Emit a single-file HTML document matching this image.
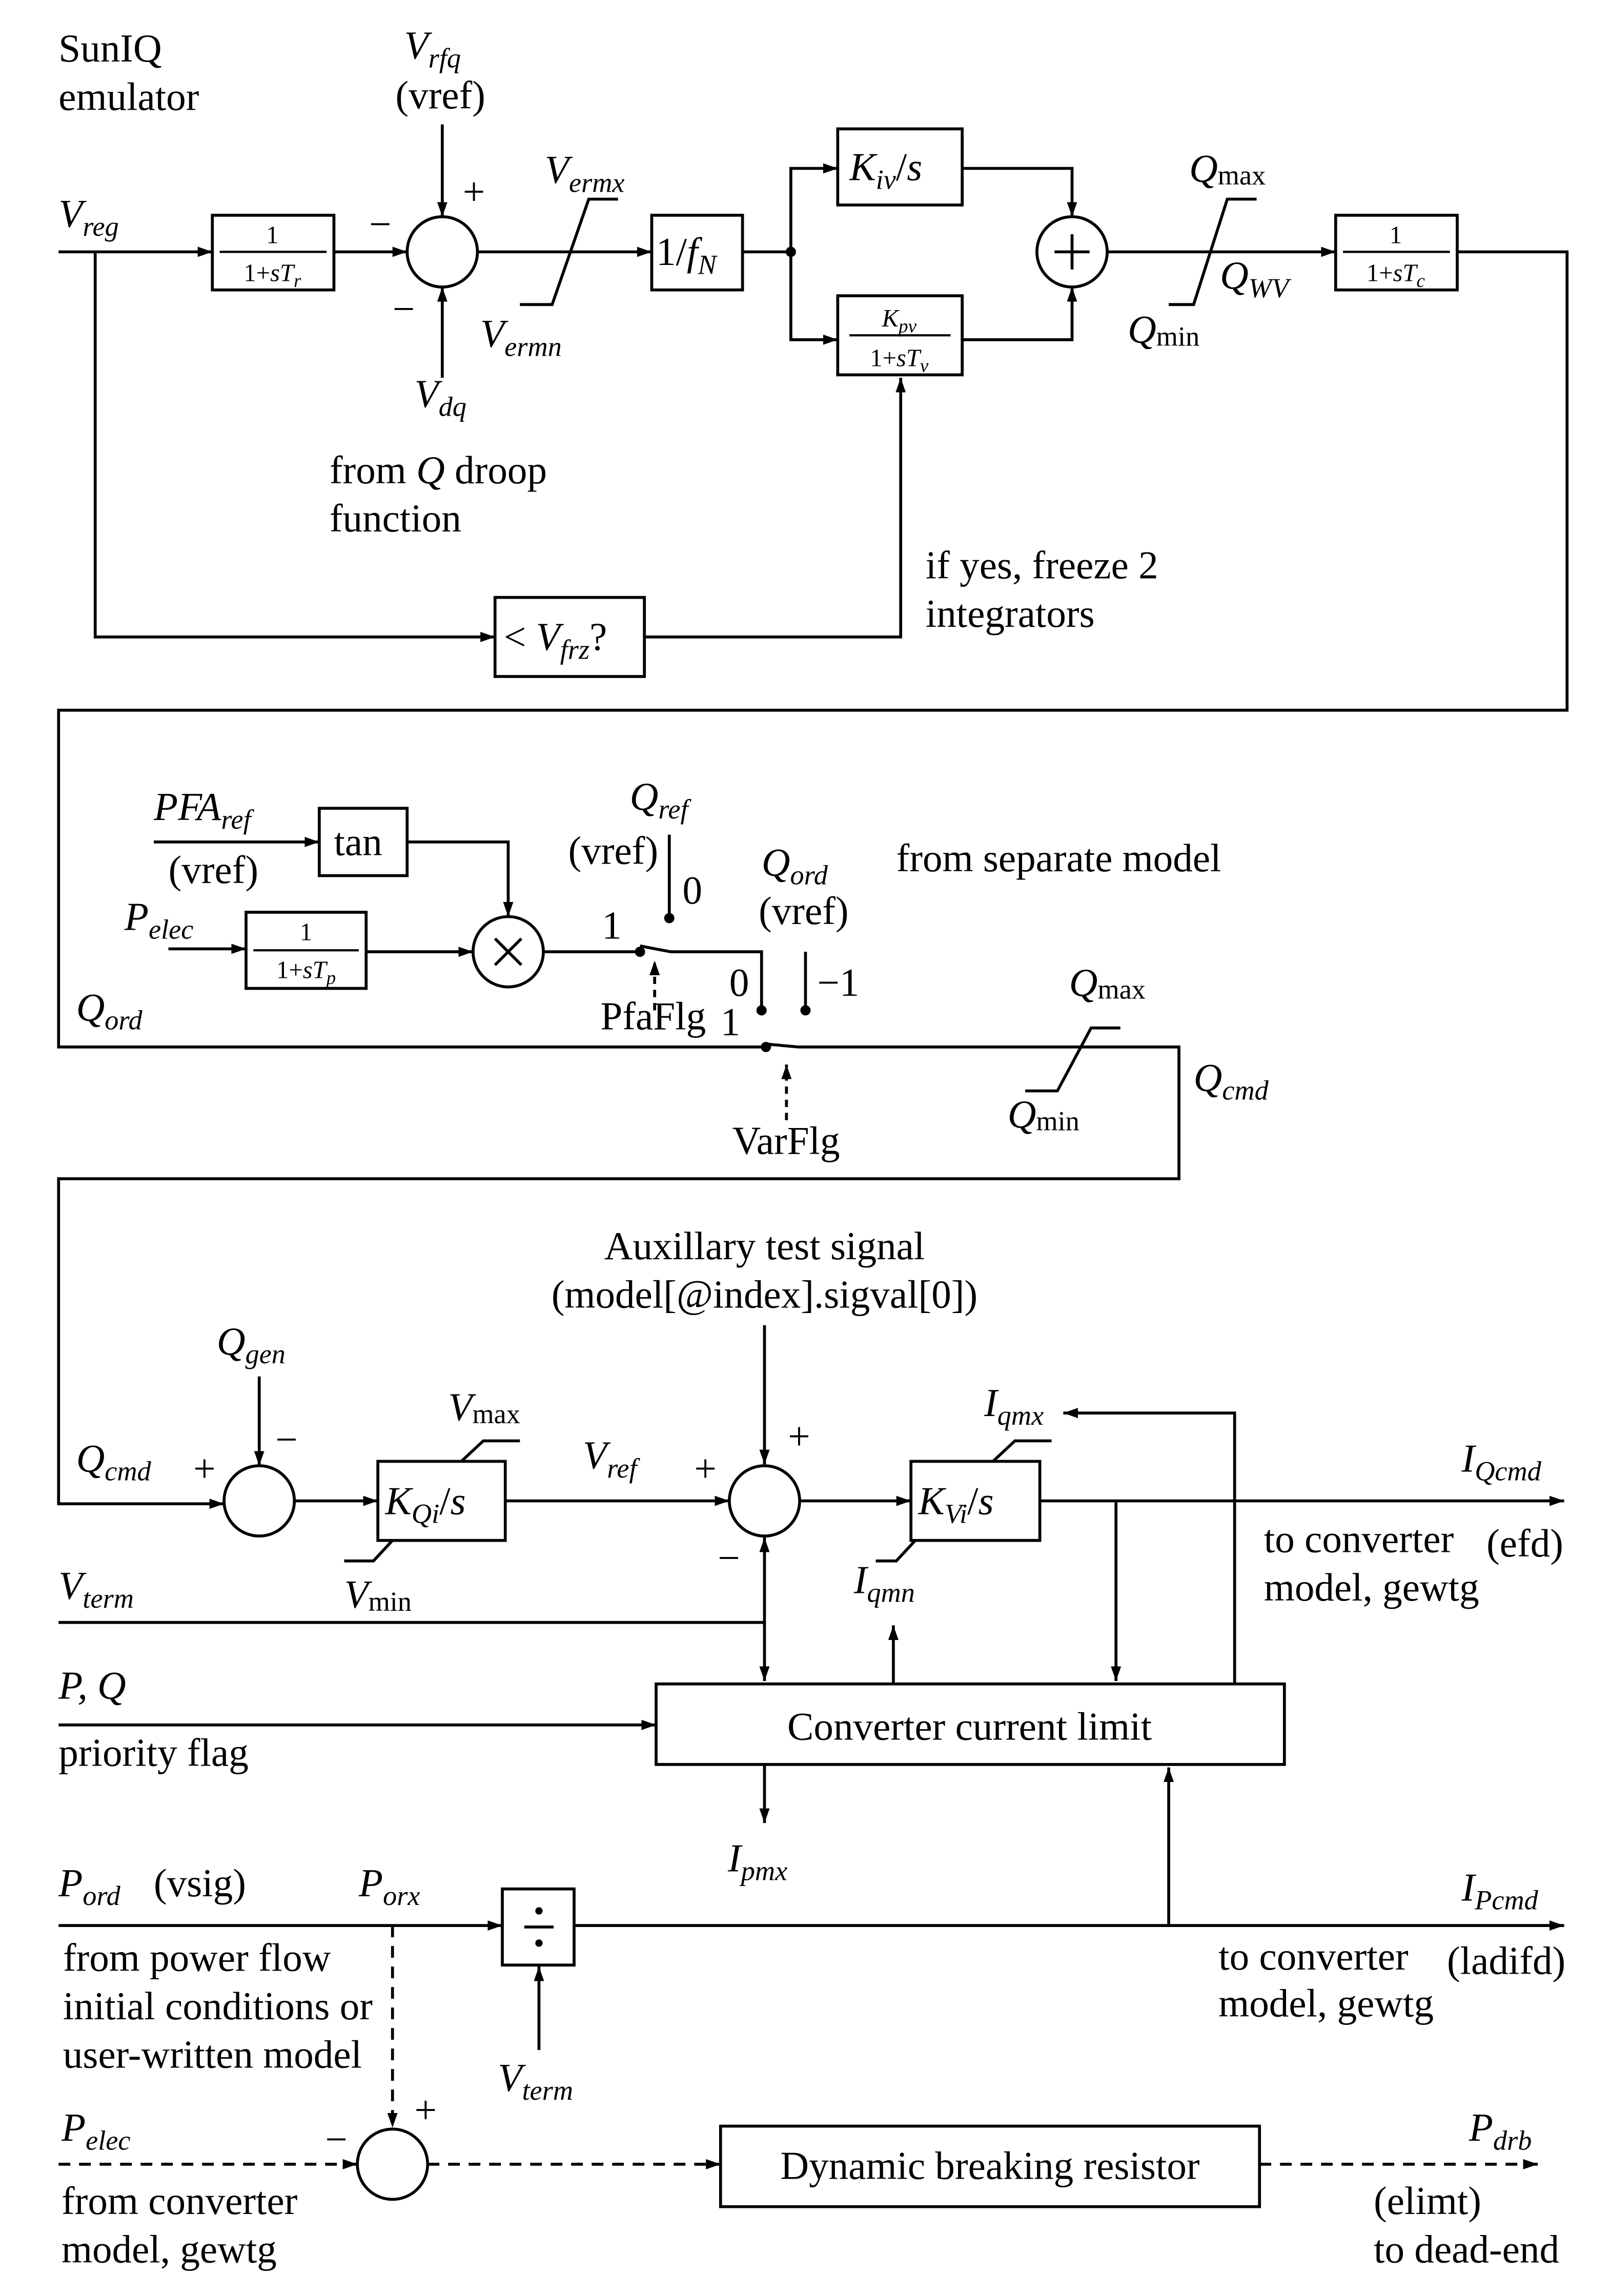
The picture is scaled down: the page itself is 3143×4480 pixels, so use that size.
<!DOCTYPE html>
<html><head><meta charset="utf-8">
<style>
html,body{margin:0;padding:0;background:#fff;}
svg{display:block;}
text{font-family:"Liberation Serif",serif;font-size:27px;fill:#000;}
.m{font-style:italic;}
.s{font-size:19px;}
text.f{font-size:17px;}
</style></head>
<body>
<svg width="3143" height="4480" viewBox="0 0 1100 1568" preserveAspectRatio="none" xmlns="http://www.w3.org/2000/svg">
<defs>
<marker id="a" viewBox="0 0 10 10" refX="10" refY="5" markerWidth="10" markerHeight="10" orient="auto" markerUnits="userSpaceOnUse">
<path d="M0,1.5 L10,5 L0,8.5 z" fill="#000"/></marker>
</defs>
<g fill="none" stroke="#000" stroke-width="2">
<line x1="40" y1="172" x2="145" y2="172" marker-end="url(#a)"/>
<rect x="145" y="147" width="83" height="51"/>
<line x1="228" y1="172" x2="278" y2="172" marker-end="url(#a)"/>
<circle cx="302" cy="172" r="24"/>
<line x1="302" y1="85" x2="302" y2="148" marker-end="url(#a)"/>
<line x1="302" y1="258" x2="302" y2="196" marker-end="url(#a)"/>
<line x1="326" y1="172" x2="445" y2="172" marker-end="url(#a)"/>
<polyline points="355,208 377,208 402,136 422,136"/>
<rect x="445" y="147" width="62" height="51"/>
<line x1="507" y1="172" x2="540" y2="172"/>
<polyline points="540,172 540,115 572,115" marker-end="url(#a)"/>
<polyline points="540,172 540,232 572,232" marker-end="url(#a)"/>
<rect x="572" y="88" width="85" height="52"/>
<rect x="572" y="202" width="85" height="54"/>
<polyline points="657,115 732,115 732,148" marker-end="url(#a)"/>
<polyline points="657,232 732,232 732,196" marker-end="url(#a)"/>
<circle cx="732" cy="172" r="24"/>
<line x1="756" y1="172" x2="912" y2="172" marker-end="url(#a)"/>
<polyline points="798,208 815,208 838,136 858,136"/>
<rect x="912" y="147" width="83" height="51"/>
<polyline points="995,172 1070,172 1070,485 40,485 40,715 523,715"/>
<polyline points="65,172 65,435 338,435" marker-end="url(#a)"/>
<rect x="338" y="408" width="102" height="54"/>
<polyline points="440,435 615,435 615,258" marker-end="url(#a)"/>
<line x1="105" y1="575" x2="218" y2="575" marker-end="url(#a)"/>
<rect x="218" y="552" width="60" height="46"/>
<polyline points="278,575 347,575 347,626" marker-end="url(#a)"/>
<circle cx="347" cy="650" r="24"/>
<line x1="115" y1="648" x2="168" y2="648" marker-end="url(#a)"/>
<rect x="168" y="623" width="82" height="52"/>
<line x1="250" y1="650" x2="323" y2="650" marker-end="url(#a)"/>
<line x1="371" y1="650" x2="437" y2="650"/>
<line x1="457" y1="570" x2="457" y2="624"/>
<polyline points="437,646 458,650 520,650 520,690"/>
<line x1="550" y1="650" x2="550" y2="688"/>
<polyline points="523,713 545,715 805,715 805,805 40,805 40,1027 153,1027" marker-end="url(#a)"/>
<polyline points="700,745 722,745 745,702 765,702"/>
<line x1="447" y1="690" x2="447" y2="656" stroke-dasharray="5,4" marker-end="url(#a)"/>
<line x1="537" y1="765" x2="537" y2="727" stroke-dasharray="5,4" marker-end="url(#a)"/>
<line x1="522" y1="905" x2="522" y2="1000" marker-end="url(#a)"/>
<line x1="177" y1="940" x2="177" y2="1001" marker-end="url(#a)"/>
<circle cx="177" cy="1025" r="24"/>
<line x1="201" y1="1025" x2="258" y2="1025" marker-end="url(#a)"/>
<rect x="258" y="998" width="87" height="54"/>
<polyline points="315,998 330,984 355,984"/>
<polyline points="235,1066 255,1066 268,1052"/>
<line x1="345" y1="1025" x2="498" y2="1025" marker-end="url(#a)"/>
<circle cx="522" cy="1025" r="24"/>
<line x1="546" y1="1025" x2="622" y2="1025" marker-end="url(#a)"/>
<rect x="622" y="998" width="88" height="54"/>
<polyline points="678,998 693,984 718,984"/>
<polyline points="598,1066 612,1066 625,1052"/>
<line x1="710" y1="1025" x2="1068" y2="1025" marker-end="url(#a)"/>
<polyline points="40,1108 522,1108 522,1050" marker-end="url(#a)"/>
<line x1="522" y1="1108" x2="522" y2="1148" marker-end="url(#a)"/>
<rect x="448" y="1150" width="429" height="55"/>
<line x1="610" y1="1150" x2="610" y2="1110" marker-end="url(#a)"/>
<line x1="762" y1="1025" x2="762" y2="1148" marker-end="url(#a)"/>
<polyline points="843,1150 843,965 726,965" marker-end="url(#a)"/>
<line x1="40" y1="1178" x2="448" y2="1178" marker-end="url(#a)"/>
<line x1="522" y1="1205" x2="522" y2="1245" marker-end="url(#a)"/>
<line x1="40" y1="1315" x2="343" y2="1315" marker-end="url(#a)"/>
<rect x="343" y="1290" width="49" height="52"/>
<line x1="392" y1="1315" x2="1068" y2="1315" marker-end="url(#a)"/>
<line x1="798" y1="1315" x2="798" y2="1207" marker-end="url(#a)"/>
<line x1="368" y1="1400" x2="368" y2="1343" marker-end="url(#a)"/>
<line x1="268" y1="1315" x2="268" y2="1453" stroke-dasharray="8,6" marker-end="url(#a)"/>
<circle cx="268" cy="1478" r="24"/>
<line x1="40" y1="1478" x2="244" y2="1478" stroke-dasharray="8,6" marker-end="url(#a)"/>
<line x1="292" y1="1478" x2="492" y2="1478" stroke-dasharray="8,6" marker-end="url(#a)"/>
<rect x="492" y="1452" width="368" height="55"/>
<line x1="860" y1="1478" x2="1050" y2="1478" stroke-dasharray="8,6" marker-end="url(#a)"/>
<line x1="150" y1="172" x2="223" y2="172" stroke-width="1.5"/>
<line x1="917" y1="172" x2="990" y2="172" stroke-width="1.5"/>
<line x1="173" y1="649" x2="245" y2="649" stroke-width="1.5"/>
<line x1="580" y1="229" x2="649" y2="229" stroke-width="1.5"/>
<line x1="720" y1="172" x2="744" y2="172"/><line x1="732" y1="160" x2="732" y2="184"/>
<line x1="338" y1="641" x2="356" y2="659"/><line x1="356" y1="641" x2="338" y2="659"/>
<line x1="358" y1="1316" x2="378" y2="1316"/>
</g>
<g fill="#000">
<circle cx="540" cy="172" r="3.5"/>
<circle cx="437" cy="650" r="3.5"/><circle cx="457" cy="627" r="3.5"/>
<circle cx="520" cy="690" r="3.5"/><circle cx="550" cy="690" r="3.5"/><circle cx="523" cy="715" r="3.5"/>
<circle cx="368" cy="1305" r="2.5"/><circle cx="368" cy="1327" r="2.5"/>
</g>
<text x="40" y="42">SunIQ</text>
<text x="40" y="75">emulator</text>
<text x="40" y="155" class="m">V<tspan class="s" dy="6">reg</tspan></text>
<text x="186" y="166" class="f" text-anchor="middle">1</text>
<text x="186" y="192" class="f" text-anchor="middle">1+<tspan class="m">sT<tspan dy="4" font-size="13">r</tspan></tspan></text>
<text x="276" y="40" class="m">V<tspan class="s" dy="6">rfq</tspan></text>
<text x="270" y="74">(vref)</text>
<text x="316" y="140">+</text>
<text x="252" y="162">−</text>
<text x="268" y="220">−</text>
<text x="283" y="278" class="m">V<tspan class="s" dy="6">dq</tspan></text>
<text x="372" y="125" class="m">V<tspan class="s" dy="6">ermx</tspan></text>
<text x="328" y="237" class="m">V<tspan class="s" dy="6">ermn</tspan></text>
<text x="448" y="181" class="m"><tspan font-style="normal">1/</tspan>f<tspan class="s" dy="6">N</tspan></text>
<text x="580" y="123" class="m">K<tspan class="s" dy="6">iv</tspan><tspan dy="-6" font-style="normal">/</tspan>s</text>
<text x="614" y="223" class="f m" text-anchor="middle">K<tspan font-size="13" dy="4">pv</tspan></text>
<text x="614" y="250" class="f" text-anchor="middle">1+<tspan class="m">sT<tspan dy="4" font-size="13">v</tspan></tspan></text>
<text x="812" y="124" class="m">Q<tspan class="s" dy="2" font-style="normal">max</tspan></text>
<text x="833" y="197" class="m">Q<tspan class="s" dy="6">WV</tspan></text>
<text x="770" y="234" class="m">Q<tspan class="s" dy="2" font-style="normal">min</tspan></text>
<text x="953" y="166" class="f" text-anchor="middle">1</text>
<text x="953" y="192" class="f" text-anchor="middle">1+<tspan class="m">sT<tspan dy="4" font-size="13">c</tspan></tspan></text>
<text x="225" y="330">from <tspan class="m">Q</tspan> droop</text>
<text x="225" y="363">function</text>
<text x="632" y="395">if yes, freeze 2</text>
<text x="632" y="428">integrators</text>
<text x="344" y="444" class="m"><tspan font-style="normal">&lt; </tspan>V<tspan class="s" dy="6">frz</tspan><tspan dy="-6" font-style="normal">?</tspan></text>
<text x="105" y="560" class="m">PFA<tspan class="s" dy="6">ref</tspan></text>
<text x="115" y="603">(vref)</text>
<text x="228" y="584">tan</text>
<text x="85" y="635" class="m">P<tspan class="s" dy="6">elec</tspan></text>
<text x="209" y="642" class="f" text-anchor="middle">1</text>
<text x="209" y="668" class="f" text-anchor="middle">1+<tspan class="m">sT<tspan dy="4" font-size="13">p</tspan></tspan></text>
<text x="430" y="553" class="m">Q<tspan class="s" dy="6">ref</tspan></text>
<text x="388" y="590">(vref)</text>
<text x="466" y="617">0</text>
<text x="411" y="641">1</text>
<text x="520" y="598" class="m">Q<tspan class="s" dy="6">ord</tspan></text>
<text x="518" y="631">(vref)</text>
<text x="612" y="595">from separate model</text>
<text x="498" y="680">0</text>
<text x="558" y="680">−1</text>
<text x="492" y="707">1</text>
<text x="410" y="703">PfaFlg</text>
<text x="500" y="788">VarFlg</text>
<text x="52" y="697" class="m">Q<tspan class="s" dy="6">ord</tspan></text>
<text x="730" y="680" class="m">Q<tspan class="s" dy="2" font-style="normal">max</tspan></text>
<text x="688" y="770" class="m">Q<tspan class="s" dy="2" font-style="normal">min</tspan></text>
<text x="815" y="745" class="m">Q<tspan class="s" dy="6">cmd</tspan></text>
<text x="522" y="860" text-anchor="middle">Auxillary test signal</text>
<text x="522" y="893" text-anchor="middle">(model[@index].sigval[0])</text>
<text x="148" y="925" class="m">Q<tspan class="s" dy="6">gen</tspan></text>
<text x="188" y="992">−</text>
<text x="132" y="1012">+</text>
<text x="52" y="1005" class="m">Q<tspan class="s" dy="6">cmd</tspan></text>
<text x="263" y="1034" class="m">K<tspan class="s" dy="6">Qi</tspan><tspan dy="-6" font-style="normal">/</tspan>s</text>
<text x="306" y="970" class="m">V<tspan class="s" dy="2" font-style="normal">max</tspan></text>
<text x="235" y="1098" class="m">V<tspan class="s" dy="2" font-style="normal">min</tspan></text>
<text x="398" y="1003" class="m">V<tspan class="s" dy="6">ref</tspan></text>
<text x="474" y="1012">+</text>
<text x="538" y="990">+</text>
<text x="490" y="1073">−</text>
<text x="627" y="1034" class="m">K<tspan class="s" dy="6">Vi</tspan><tspan dy="-6" font-style="normal">/</tspan>s</text>
<text x="672" y="967" class="m">I<tspan class="s" dy="6">qmx</tspan></text>
<text x="583" y="1088" class="m">I<tspan class="s" dy="6">qmn</tspan></text>
<text x="998" y="1005" class="m">I<tspan class="s" dy="6">Qcmd</tspan></text>
<text x="863" y="1060">to converter</text>
<text x="1015" y="1063">(efd)</text>
<text x="863" y="1093">model, gewtg</text>
<text x="40" y="1092" class="m">V<tspan class="s" dy="6">term</tspan></text>
<text x="40" y="1160" class="m">P, Q</text>
<text x="40" y="1206">priority flag</text>
<text x="662" y="1188" text-anchor="middle">Converter current limit</text>
<text x="497" y="1278" class="m">I<tspan class="s" dy="6">pmx</tspan></text>
<text x="40" y="1295" class="m">P<tspan class="s" dy="6">ord</tspan></text>
<text x="105" y="1295">(vsig)</text>
<text x="245" y="1295" class="m">P<tspan class="s" dy="6">orx</tspan></text>
<text x="998" y="1298" class="m">I<tspan class="s" dy="6">Pcmd</tspan></text>
<text x="832" y="1345">to converter</text>
<text x="988" y="1348">(ladifd)</text>
<text x="832" y="1377">model, gewtg</text>
<text x="43" y="1346">from power flow</text>
<text x="43" y="1379">initial conditions or</text>
<text x="43" y="1412">user-written model</text>
<text x="340" y="1428" class="m">V<tspan class="s" dy="6">term</tspan></text>
<text x="283" y="1450">+</text>
<text x="222" y="1470">−</text>
<text x="42" y="1462" class="m">P<tspan class="s" dy="6">elec</tspan></text>
<text x="42" y="1512">from converter</text>
<text x="42" y="1545">model, gewtg</text>
<text x="676" y="1488" text-anchor="middle">Dynamic breaking resistor</text>
<text x="1003" y="1462" class="m">P<tspan class="s" dy="6">drb</tspan></text>
<text x="938" y="1512">(elimt)</text>
<text x="938" y="1545">to dead-end</text>
</svg>
</body></html>
